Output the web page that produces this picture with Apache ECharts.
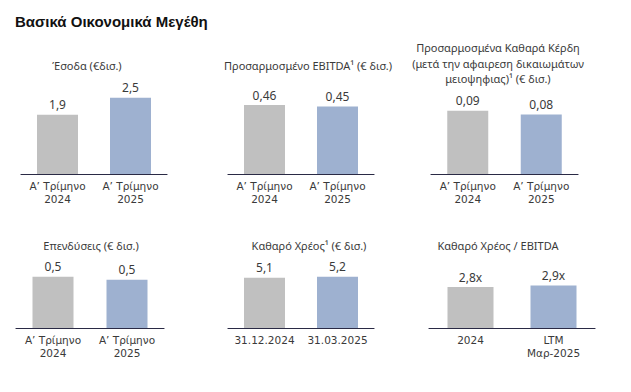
<!DOCTYPE html>
<html>
<head>
<meta charset="utf-8">
<script src="https://cdn.jsdelivr.net/npm/echarts@6/dist/echarts.min.js"></script>
<style>
  html, body { margin: 0; padding: 0; background: #ffffff; }
  #chart { width: 631px; height: 392px; }
</style>
</head>
<body>
<div id="chart"></div>
<script>
// ---- Data ----
const mainTitle = 'Βασικά Οικονομικά Μεγέθη';
const panelTitles = [
  'Έσοδα (€δισ.)',
  'Προσαρμοσμένο EBITDA¹ (€ δισ.)',
  'Προσαρμοσμένα Καθαρά Κέρδη\n(μετά την αφαιρεση δικαιωμάτων\nμειοψηφιας)¹ (€ δισ.)',
  'Επενδύσεις (€ δισ.)',
  'Καθαρό Χρέος¹ (€ δισ.)',
  'Καθαρό Χρέος / EBITDA'
];
const quarterCategories = ['Α’ Τρίμηνο\n2024', 'Α’ Τρίμηνο\n2025'];
const debtCategories = ['31.12.2024', '31.03.2025'];
const leverageCategories = ['2024', 'LTM\nΜαρ-2025'];

const revenue = [1.94, 2.5];
const adjEbitda = [0.46, 0.45];
const adjNetIncome = [0.088, 0.083];
const capex = [0.52, 0.49];
const netDebt = [5.1, 5.2];
const netDebtToEbitda = [2.8, 2.9];

const decimals = [1, 2, 2, 1, 1, 1];
const suffixes = ['', '', '', '', '', 'x'];

// ---- Layout / style ----
const FONT = 'Noto Sans';
const CAT_FONT = 'DejaVu Sans';
const GRAY = '#c0c0c0';
const BLUE = '#9eb1d0';
const AXIS = '#2a2a45';
const TEXT = '#3a3a3a';

const panels = [
  { cats: quarterCategories, data: revenue,        left: 21,  width: 146, top: 90,  bottom: 218, max: 2.75,  bw: 41, title: { x: 87,  y: 57.5 } },
  { cats: quarterCategories, data: adjEbitda,      left: 228, width: 146, top: 90,  bottom: 218, max: 0.56,  bw: 41, title: { x: 308, y: 57.5 } },
  { cats: quarterCategories, data: adjNetIncome,   left: 431, width: 147, top: 90,  bottom: 218, max: 0.117, bw: 41, title: { x: 498, y: 40 } },
  { cats: quarterCategories, data: capex,          left: 16,  width: 148, top: 260, bottom: 64,  max: 0.69,  bw: 41, title: { x: 91,  y: 237.5 } },
  { cats: debtCategories,    data: netDebt,        left: 228, width: 146, top: 260, bottom: 64,  max: 6.9,   bw: 41, title: { x: 309, y: 237.5 } },
  { cats: leverageCategories,data: netDebtToEbitda,left: 429, width: 166, top: 260, bottom: 64,  max: 4.65,  bw: 46, title: { x: 498, y: 237.5 } }
];

const titles = [{
  text: mainTitle, left: 15, top: 14, padding: 0,
  textStyle: { fontFamily: 'Liberation Sans', fontWeight: 'bold', fontSize: 15, color: '#111111' }
}];
const grids = [], xAxes = [], yAxes = [], series = [];

panels.forEach((p, i) => {
  titles.push({
    text: panelTitles[i], left: p.title.x, top: p.title.y, textAlign: 'center', padding: 0,
    textStyle: { fontFamily: FONT, fontWeight: 'normal', fontSize: 11, color: TEXT, lineHeight: 15.5 }
  });
  grids.push({ left: p.left, width: p.width, top: p.top, bottom: p.bottom, containLabel: false });
  xAxes.push({
    type: 'category', gridIndex: i, data: p.cats,
    axisLine: { lineStyle: { color: AXIS, width: 1.2 } },
    axisTick: { show: false },
    axisLabel: { fontFamily: CAT_FONT, fontSize: 10.5, color: TEXT, lineHeight: 12.8, margin: 6, interval: 0 }
  });
  yAxes.push({ type: 'value', gridIndex: i, min: 0, max: p.max, show: false, splitLine: { show: false } });
  series.push({
    type: 'bar', xAxisIndex: i, yAxisIndex: i, barWidth: p.bw,
    data: p.data.map((v, j) => ({ value: v, itemStyle: { color: j === 0 ? GRAY : BLUE } })),
    label: {
      show: true, position: 'top', distance: 4,
      fontFamily: FONT, fontSize: 12, color: TEXT,
      formatter: (prm) => prm.value.toFixed(decimals[i]).replace('.', ',') + suffixes[i]
    },
    silent: true, animation: false
  });
});

const chart = echarts.init(document.getElementById('chart'), null, { renderer: 'svg' });
chart.setOption({
  animation: false,
  title: titles,
  grid: grids,
  xAxis: xAxes,
  yAxis: yAxes,
  series: series
});
</script>
</body>
</html>
